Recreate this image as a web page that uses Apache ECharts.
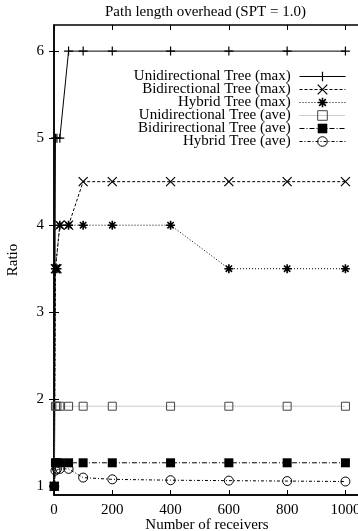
<!DOCTYPE html>
<html>
<head>
<meta charset="utf-8">
<script src="https://cdn.jsdelivr.net/npm/echarts@6/dist/echarts.min.js"></script>
<style>html,body{margin:0;padding:0;background:#fff}#c{width:358px;height:531px}</style>
</head>
<body>
<div id="c"></div>
<script>
const receivers = [1, 5, 10, 20, 50, 100, 200, 400, 600, 800, 1000];
const uniMax    = [1, 5, 5, 5, 6, 6, 6, 6, 6, 6, 6];
const bidirMax  = [1, 3.5, 3.5, 4, 4, 4.5, 4.5, 4.5, 4.5, 4.5, 4.5];
const hybridMax = [1, 3.5, 3.5, 4, 4, 4, 4, 4, 3.5, 3.5, 3.5];
const uniAve    = [1, 1.92, 1.92, 1.92, 1.92, 1.92, 1.92, 1.92, 1.92, 1.92, 1.92];
const bidirAve  = [1, 1.27, 1.27, 1.27, 1.27, 1.27, 1.27, 1.27, 1.27, 1.27, 1.27];
const hybridAve = [1, 1.18, 1.2, 1.2, 1.2, 1.1, 1.08, 1.07, 1.065, 1.06, 1.055];
const seriesNames = ['Unidirectional Tree (max)', 'Bidirectional Tree (max)', 'Hybrid Tree (max)',
  'Unidirectional Tree (ave)', 'Bidirirectional Tree (ave)', 'Hybrid Tree (ave)'];
const xTicks = [0, 200, 400, 600, 800, 1000];
const yTicks = [1, 2, 3, 4, 5, 6];

const FONT = 'Liberation Serif';
const pts = arr => receivers.map((x, i) => [x, arr[i]]);
const PLUS = 'path://M5,0L5,10M0,5L10,5';
const CROSS = 'path://M0,0L10,10M0,10L10,0';
const STAR = 'path://M5,0L5,10M0,5L10,5M1.5,1.5L8.5,8.5M1.5,8.5L8.5,1.5';

const styles = [
  { sym: PLUS, size: 9, type: 'solid', lc: '#000', fill: 'none', bc: '#000', bw: 1.2 },
  { sym: CROSS, size: 9, type: [3, 2], lc: '#000', fill: 'none', bc: '#000', bw: 1.2 },
  { sym: STAR, size: 9, type: [1, 2], lc: '#000', fill: 'none', bc: '#000', bw: 1.6 },
  { sym: 'rect', size: 8, type: [1, 1], lc: '#999', fill: 'none', bc: '#444', bw: 1 },
  { sym: 'rect', size: 9, type: [5, 2, 1, 2], lc: '#000', fill: '#000', bc: '#000', bw: 0 },
  { sym: 'circle', size: 9, type: [3, 2, 1, 2], lc: '#000', fill: 'none', bc: '#000', bw: 1 }
];
const values = [uniMax, bidirMax, hybridMax, uniAve, bidirAve, hybridAve];

const series = values.map((arr, i) => {
  const s = styles[i];
  return {
    name: seriesNames[i], type: 'line', data: pts(arr), symbol: s.sym, symbolSize: s.size,
    lineStyle: { color: s.lc, width: 1, type: s.type },
    itemStyle: { color: s.fill, borderColor: s.bc, borderWidth: s.bw, opacity: 1 },
    emphasis: { disabled: true }, z: 3
  };
});
const legendData = seriesNames.map((n, i) => {
  const s = styles[i];
  return {
    name: n,
    itemStyle: { color: s.fill, borderColor: s.bc, borderWidth: s.bw },
    lineStyle: { color: s.lc, width: 1, type: s.type }
  };
});

const chart = echarts.init(document.getElementById('c'), null, { renderer: 'canvas' });
const axisText = { color: '#000', fontFamily: FONT, fontSize: 15 };
chart.setOption({
  animation: false,
  backgroundColor: '#fff',
  title: {
    text: 'Path length overhead (SPT = 1.0)', left: 105, top: 5, padding: 0,
    textStyle: { color: '#000', fontFamily: FONT, fontSize: 15, fontWeight: 'normal' }
  },
  legend: {
    orient: 'vertical', right: 7, top: 64, align: 'right',
    itemWidth: 46, itemHeight: 12, itemGap: -2,
    textStyle: { color: '#000', fontFamily: FONT, fontSize: 15, lineHeight: 12 },
    formatter: n => n + ' ',
    data: legendData, selectedMode: false
  },
  grid: { left: 54, right: -2, top: 25, bottom: 36, containLabel: false, outerBoundsMode: 'none',
    show: true, borderColor: '#000', borderWidth: 1.5, backgroundColor: 'transparent' },
  xAxis: [{
    type: 'value', min: 0, max: 1050, position: 'bottom',
    name: 'Number of receivers', nameLocation: 'middle', nameGap: 23, nameMoveOverlap: false,
    nameTextStyle: axisText,
    axisLine: { show: true, lineStyle: { color: '#000', width: 1.5 } },
    axisTick: { show: true, inside: true, length: 5, customValues: xTicks, lineStyle: { color: '#000' } },
    axisLabel: { show: true, margin: 8, customValues: xTicks, formatter: v => String(v), ...axisText },
    splitLine: { show: false }
  }, {
    type: 'value', min: 0, max: 1050, position: 'top',
    axisLine: { show: false },
    axisTick: { show: true, inside: true, length: 5, customValues: xTicks, lineStyle: { color: '#000' } },
    axisLabel: { show: false }, splitLine: { show: false }
  }],
  yAxis: [{
    type: 'value', min: 0.9, max: 6.3, position: 'left',
    name: 'Ratio', nameLocation: 'middle', nameGap: 33, nameRotate: 90, nameMoveOverlap: false,
    nameTextStyle: axisText,
    axisLine: { show: true, lineStyle: { color: '#000', width: 1.5 } },
    axisTick: { show: true, inside: true, length: 5, customValues: yTicks, lineStyle: { color: '#000' } },
    axisLabel: { show: true, margin: 10, customValues: yTicks, formatter: v => String(v), ...axisText },
    splitLine: { show: false }
  }, {
    type: 'value', min: 0.9, max: 6.3, position: 'right',
    axisLine: { show: false },
    axisTick: { show: true, inside: true, length: 5, customValues: yTicks, lineStyle: { color: '#000' } },
    axisLabel: { show: false }, splitLine: { show: false }
  }],
  series
});
</script>
</body>
</html>
